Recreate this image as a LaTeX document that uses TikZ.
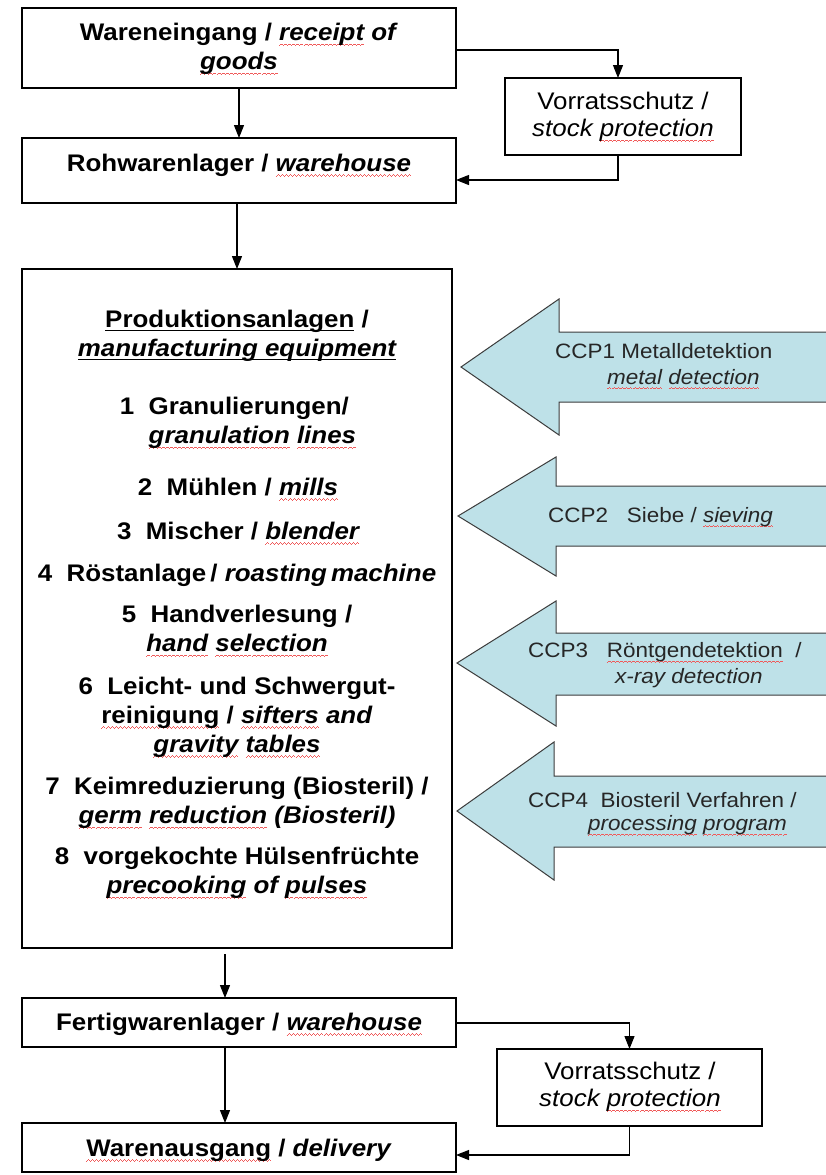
\documentclass[tikz,border=0pt]{standalone}
\usepackage{fontspec}
\setmainfont{Liberation Sans}[FakeStretch=1.08]
\usetikzlibrary{arrows.meta}
\definecolor{ccpfill}{RGB}{190,225,232}
\definecolor{ccpline}{RGB}{60,60,60}
\definecolor{spellred}{RGB}{240,90,90}
\newsavebox\splbox
\newcommand\wavepiece{\rule[-5.0pt]{1pt}{0.65pt}\rule[-4.4pt]{1pt}{0.65pt}\rule[-3.8pt]{1pt}{0.65pt}\rule[-4.4pt]{1pt}{0.65pt}}
\newcommand\spl[1]{\sbox\splbox{#1}\rlap{\textcolor{spellred}{\hbox to \wd\splbox{\xleaders\hbox{\wavepiece}\hfill}}}\usebox\splbox}
\newcommand\solidul[1]{\sbox\splbox{#1}\rlap{\rule[-3.5pt]{\wd\splbox}{1.3pt}}\usebox\splbox}
\begin{document}
\begin{tikzpicture}[x=1pt,y=-1pt,
  boxs/.style={draw=black,line width=1.2pt,fill=white,inner sep=0pt,outer sep=0pt},
  conn/.style={line width=1.1pt,-{Triangle[length=13pt,width=10pt]}},
  maintext/.style={font=\fontsize{24}{29}\selectfont\bfseries,align=center,inner sep=0pt},
  vstext/.style={font=\fontsize{24}{27}\selectfont,align=center,inner sep=0pt},
  ccptext/.style={font=\fontsize{20.8}{26}\selectfont,align=left,anchor=west,inner sep=0pt,text=black!85},
  ccpfillst/.style={fill=ccpfill},
  ccpedge/.style={draw=ccpline,line width=1pt,line join=miter}]
\fill[white] (0,0) rectangle (826,1175);
\useasboundingbox (0,0) rectangle (826,1175);

% boxes
\node[boxs,minimum width=434pt,minimum height=80pt] (box1) at (239,48) {};
\node[boxs,minimum width=434pt,minimum height=65pt] (box2) at (239,170.5) {};
\node[boxs,minimum width=236pt,minimum height=77pt] (vs1) at (623,116.5) {};
\node[boxs,minimum width=430pt,minimum height=679pt] (prod) at (237,608.5) {};
\node[boxs,minimum width=434pt,minimum height=49pt] (fert) at (239,1022.5) {};
\node[boxs,minimum width=265pt,minimum height=77pt] (vs2) at (629.5,1087.5) {};
\node[boxs,minimum width=434pt,minimum height=49pt] (ausg) at (239,1147.5) {};

% box texts
\node[maintext] (t1) at (239,49) {Wareneingang / \textit{\spl{receipt} of}\\\textit{\spl{goods}}};
\node[maintext] (t2) at (239,165) {Rohwarenlager / \textit{\spl{warehouse}}};
\node[vstext] (tv1) at (623,117) {Vorratsschutz /\\\textit{stock \spl{protection}}};
\node[maintext] (tf) at (239,1024) {Fertigwarenlager / \textit{\spl{warehouse}}};
\node[vstext] (tv2) at (630,1087) {Vorratsschutz /\\\textit{stock \spl{protection}}};
\node[maintext] (ta) at (239,1150) {\spl{Warenausgang} / \textit{delivery}};

% production list
\node[maintext] (ph) at (237,336) {\solidul{Produktionsanlagen} /\\\textit{\solidul{manufacturing equipment}}};
\node[maintext,align=left] (p1) at (238,423) {1~~Granulierungen/\\\phantom{1~~}\textit{\spl{granulation} \spl{lines}}};
\node[maintext] (p2) at (238,489) {2~~Mühlen / \textit{\spl{mills}}};
\node[maintext] (p3) at (238,533) {3~~Mischer / \textit{\spl{blender}}};
\node[maintext] (p4) at (237,575) {4~~Röstanlage\,/ \textit{roasting\,machine}};
\node[maintext] (p5) at (237,631) {5~~Handverlesung /\\\textit{\spl{hand} \spl{selection}}};
\node[maintext] (p6) at (237,717) {6~~Leicht- und Schwergut-\\\spl{reinigung} / \textit{\spl{sifters} and}\\\textit{\spl{gravity} \spl{tables}}};
\node[maintext] (p7) at (237,803) {7~~Keimreduzierung (Biosteril) /\\\textit{\spl{germ} \spl{reduction} (Biosteril)}};
\node[maintext] (p8) at (237,873) {8~~vorgekochte Hülsenfrüchte\\\textit{\spl{precooking} of \spl{pulses}}};

% CCP block arrows
\fill[ccpfillst] (826,332) -- (559,332) -- (559,299) -- (461,367) -- (559,435) -- (559,402) -- (826,402) -- cycle;
\draw[ccpedge] (826,332) -- (559,332) -- (559,299) -- (461,367) -- (559,435) -- (559,402) -- (826,402);
\fill[ccpfillst] (826,486) -- (556,486) -- (556,457) -- (458,516) -- (556,576) -- (556,546) -- (826,546) -- cycle;
\draw[ccpedge] (826,486) -- (556,486) -- (556,457) -- (458,516) -- (556,576) -- (556,546) -- (826,546);
\fill[ccpfillst] (826,633) -- (556,633) -- (556,601) -- (457,663) -- (556,726) -- (556,695) -- (826,695) -- cycle;
\draw[ccpedge] (826,633) -- (556,633) -- (556,601) -- (457,663) -- (556,726) -- (556,695) -- (826,695);
\fill[ccpfillst] (826,776) -- (554,776) -- (554,742) -- (457,811) -- (554,880) -- (554,847) -- (826,847) -- cycle;
\draw[ccpedge] (826,776) -- (554,776) -- (554,742) -- (457,811) -- (554,880) -- (554,847) -- (826,847);

\node[ccptext] (c1) at (555,366) {CCP1 Metalldetektion\\\hspace*{52pt}\textit{\spl{metal} \spl{detection}}};
\node[ccptext] (c2) at (548,517) {CCP2~~~Siebe / \textit{\spl{sieving}}};
\node[ccptext] (c3) at (528,665) {CCP3~~~\spl{Röntgendetektion}~~/\\\hspace*{87pt}\textit{x-ray detection}};
\node[ccptext,font=\fontsize{20.8}{23}\selectfont] (c4) at (528,814) {CCP4~~Biosteril Verfahren /\\\hspace*{60pt}\textit{\spl{processing} \spl{program}}};

% connectors
\draw[conn] (box1.south) -- (box2.north);
\draw[conn] ([yshift=-2pt]box1.east) -| ([xshift=-5pt]vs1.north);
\draw[conn] ([xshift=-5pt]vs1.south) |- ([yshift=-9.5pt]box2.east);
\draw[conn] ([xshift=-2pt]box2.south) -- (prod.north);
\draw[conn,shorten <=6pt] ([xshift=-12pt]prod.south) -- ([xshift=-12pt]prod.south |- fert.north);
\draw[conn] ([yshift=-0.5pt]fert.east) -| (vs2.north);
\draw[conn] ([xshift=-14pt]fert.south) -- ([xshift=-14pt]fert.south |- ausg.north);
\draw[conn] (vs2.south) |- ([yshift=-7.5pt]ausg.east);
\end{tikzpicture}
\end{document}
